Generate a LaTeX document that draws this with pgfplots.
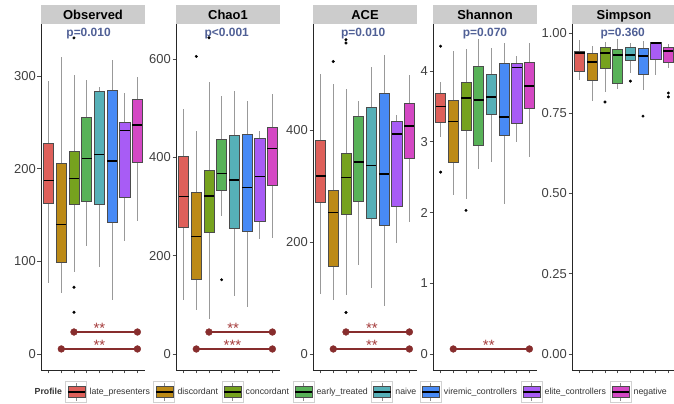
\documentclass[border=0pt]{standalone}
\usepackage{pgfplots}
\pgfplotsset{compat=1.18}
\usepgfplotslibrary{statistics}
\usepackage{fontspec}
\setmainfont{Liberation Sans}

\definecolor{c1}{RGB}{222,96,90}
\definecolor{c2}{RGB}{188,138,22}
\definecolor{c3}{RGB}{118,162,30}
\definecolor{c4}{RGB}{88,178,88}
\definecolor{c5}{RGB}{86,176,184}
\definecolor{c6}{RGB}{72,138,245}
\definecolor{c7}{RGB}{168,92,245}
\definecolor{c8}{RGB}{212,72,196}
\definecolor{pcol}{RGB}{80,96,150}
\definecolor{brk}{RGB}{135,45,45}
\definecolor{stc}{RGB}{165,60,60}
\definecolor{stripc}{RGB}{204,204,204}

\pgfplotsset{
 panel/.style={scale only axis, width=104bp, height=346bp, anchor=south west,
  xmin=0.4, xmax=8.6, xtick={1,2,3,4,5,6,7,8}, xticklabels={},
  axis x line*=bottom, axis y line*=left,
  axis line style={-, black!85, line width=0.9bp},
  tick style={black!70, line width=0.7bp}, tick align=outside,
  major tick length=3.5bp,
  tick label style={font=\fontsize{13}{13}\selectfont, text=black!75},
  yticklabel style={inner sep=1.5bp},
  /pgf/number format/assume math mode=true,
  clip=false},
 bxs/.style={forget plot, boxplot/draw direction=y, boxplot/box extend=0.8, boxplot/whisker extend=0,
   boxplot/every box/.style={draw=black!70, fill=#1, line width=0.5bp},
   boxplot/every whisker/.style={draw=black!40, line width=0.8bp},
   boxplot/every median/.style={draw=black, line width=1.4bp}},
 outl/.style={forget plot, only marks, mark=*, mark size=1.3bp, mark options={fill=black, draw=black}},
 brkline/.style={forget plot, brk, line width=2bp, mark=*, mark size=3.4bp, mark options={fill=brk, draw=brk, line width=0.4bp}},
 boxkey/.style={legend image code/.code={
   \draw[black!18, fill=white, line width=0.6bp] (0bp,-10.5bp) rectangle (21bp,10.5bp);
   \draw[black!45, line width=0.8bp] (10.5bp,-9bp) -- (10.5bp,9bp);
   \draw[fill=#1, draw=black!70, line width=0.5bp] (2bp,-5.5bp) rectangle (19bp,5.5bp);
   \draw[black, line width=1.2bp] (2bp,0bp) -- (19bp,0bp);}},
}

\newcommand{\bx}[7]{\addplot[bxs=#1, boxplot prepared={draw position=#2, lower whisker=#3, lower quartile=#4, median=#5, upper quartile=#6, upper whisker=#7}] coordinates {};}
\newcommand{\facet}[1]{\fill[stripc] (rel axis cs:0,1) rectangle (rel axis cs:1,1.0549);
  \node[anchor=base, font=\bfseries\fontsize{13}{13}\selectfont] at (rel axis cs:0.5,1.0116) {#1};}
\newcommand{\pval}[2]{\node[anchor=base, font=\bfseries\fontsize{12}{12}\selectfont, text=pcol] at ({axis cs:#1,0} |- {rel axis cs:0,0.9653}) {#2};}
\newcommand{\stars}[3]{\node[anchor=base, yshift=-1.6bp, font=\fontsize{15}{15}\selectfont, text=stc] at (axis cs:#1,#2) {#3};}

\begin{document}
\begin{tikzpicture}
\useasboundingbox (0,0) rectangle (674bp,404bp);

% ---------------- Observed
\begin{axis}[panel, at={(41bp,34bp)}, ymin=-17.3, ymax=356, ytick={0,100,200,300},
  legend columns=9,
  legend style={at={(2.971,-0.0636)}, anchor=center, draw=none, fill=none,
    font=\fontsize{8.8}{9}\selectfont, text=black!80, inner sep=0pt,
    nodes={inner sep=1bp},
    /tikz/column sep=0pt,
    /tikz/every odd column/.append style={column sep=1.5bp},
    /tikz/every even column/.append style={column sep=2.5bp}},
  legend cell align=left]
\addlegendimage{empty legend}\addlegendentry{\textbf{Profile}}
\addlegendimage{boxkey=c1}\addlegendentry{late\_presenters}
\addlegendimage{boxkey=c2}\addlegendentry{discordant}
\addlegendimage{boxkey=c3}\addlegendentry{concordant}
\addlegendimage{boxkey=c4}\addlegendentry{early\_treated}
\addlegendimage{boxkey=c5}\addlegendentry{naive}
\addlegendimage{boxkey=c6}\addlegendentry{viremic\_controllers}
\addlegendimage{boxkey=c7}\addlegendentry{elite\_controllers}
\addlegendimage{boxkey=c8}\addlegendentry{negative}
\bx{c1}{1}{77}{163}{187}{227}{295}
\bx{c2}{2}{66}{99}{140}{206}{320}
\bx{c3}{3}{88}{162}{189}{219}{301}
\bx{c4}{4}{116}{165}{211}{255}{296}
\bx{c5}{5}{94}{162}{215}{283}{288}
\bx{c6}{6}{58}{142}{208}{285}{317}
\bx{c7}{7}{122}{169}{241}{250}{282}
\bx{c8}{8}{143}{207}{247}{275}{299}
\addplot[outl] coordinates {(3,341) (3,72) (3,45)};
\addplot[brkline] coordinates {(3,23.7) (8,23.7)};
\addplot[brkline] coordinates {(2,5.4) (8,5.4)};
\stars{5}{23.7}{**}
\stars{5}{5.4}{**}
\facet{Observed}
\pval{4.15}{p=0.010}
\end{axis}

% ---------------- Chao1
\begin{axis}[panel, at={(176bp,34bp)}, ymin=-32.5, ymax=671, ytick={0,200,400,600}]
\bx{c1}{1}{110}{257}{320}{402}{498}
\bx{c2}{2}{90}{151}{239}{328}{453}
\bx{c3}{3}{71}{247}{321}{374}{553}
\bx{c4}{4}{280}{333}{367}{437}{524}
\bx{c5}{5}{118}{255}{354}{445}{535}
\bx{c6}{6}{96}{249}{339}{447}{514}
\bx{c7}{7}{233}{269}{361}{439}{453}
\bx{c8}{8}{235}{343}{418}{461}{529}
\addplot[outl] coordinates {(2,605) (3,643) (4,151)};
\addplot[brkline] coordinates {(3,44.7) (8,44.7)};
\addplot[brkline] coordinates {(2,10.2) (8,10.2)};
\stars{4.9}{44.7}{**}
\stars{4.85}{10.2}{***}
\facet{Chao1}
\pval{4.4}{p<0.001}
\end{axis}

% ---------------- ACE
\begin{axis}[panel, at={(313bp,34bp)}, ymin=-28.6, ymax=589, ytick={0,200,400}]
\bx{c1}{1}{107}{270}{318}{382}{500}
\bx{c2}{2}{96}{157}{252}{293}{482}
\bx{c3}{3}{105}{250}{315}{359}{473}
\bx{c4}{4}{159}{273}{343}{425}{452}
\bx{c5}{5}{118}{243}{336}{441}{513}
\bx{c6}{6}{86}{230}{321}{466}{534}
\bx{c7}{7}{198}{264}{393}{416}{427}
\bx{c8}{8}{236}{350}{407}{448}{498}
\addplot[outl] coordinates {(2,522) (3,561) (3,555) (3,74)};
\addplot[brkline] coordinates {(3,39.3) (8,39.3)};
\addplot[brkline] coordinates {(2,8.9) (8,8.9)};
\stars{5.05}{39.3}{**}
\stars{5.05}{8.9}{**}
\facet{ACE}
\pval{4.35}{p=0.010}
\end{axis}

% ---------------- Shannon
\begin{axis}[panel, at={(433bp,34bp)}, ymin=-0.226, ymax=4.664, ytick={0,1,2,3,4}]
\bx{c1}{1}{3.07}{3.28}{3.50}{3.68}{3.84}
\bx{c2}{2}{2.25}{2.71}{3.29}{3.58}{4.28}
\bx{c3}{3}{2.19}{3.16}{3.62}{3.84}{4.31}
\bx{c4}{4}{2.61}{2.95}{3.59}{4.07}{4.45}
\bx{c5}{5}{2.71}{3.39}{3.63}{3.95}{4.33}
\bx{c6}{6}{2.12}{3.09}{3.35}{4.11}{4.39}
\bx{c7}{7}{3.00}{3.26}{4.05}{4.11}{4.21}
\bx{c8}{8}{2.78}{3.47}{3.79}{4.12}{4.39}
\addplot[outl] coordinates {(1,4.35) (1,2.57) (3,2.03)};
\addplot[brkline] coordinates {(2,0.071) (8,0.071)};
\stars{4.8}{0.071}{**}
\facet{Shannon}
\pval{4.5}{p=0.070}
\end{axis}

% ---------------- Simpson
\begin{axis}[panel, at={(572bp,34bp)}, ymin=-0.0498, ymax=1.028, ytick={0,0.25,0.5,0.75,1},
  yticklabel style={/pgf/number format/.cd, fixed, fixed zerofill, precision=2}]
\bx{c1}{1}{0.854}{0.882}{0.938}{0.944}{0.978}
\bx{c2}{2}{0.789}{0.854}{0.910}{0.938}{0.959}
\bx{c3}{3}{0.816}{0.891}{0.938}{0.956}{0.972}
\bx{c4}{4}{0.825}{0.844}{0.931}{0.950}{0.981}
\bx{c5}{5}{0.875}{0.916}{0.931}{0.956}{0.969}
\bx{c6}{6}{0.822}{0.872}{0.928}{0.953}{0.975}
\bx{c7}{7}{0.869}{0.919}{0.969}{0.972}{0.972}
\bx{c8}{8}{0.891}{0.910}{0.944}{0.956}{0.966}
\addplot[outl] coordinates {(3,0.785) (5,0.850) (6,0.741) (8,0.813) (8,0.801)};
\facet{Simpson}
\pval{4.4}{p=0.360}
\end{axis}
\end{tikzpicture}
\end{document}
